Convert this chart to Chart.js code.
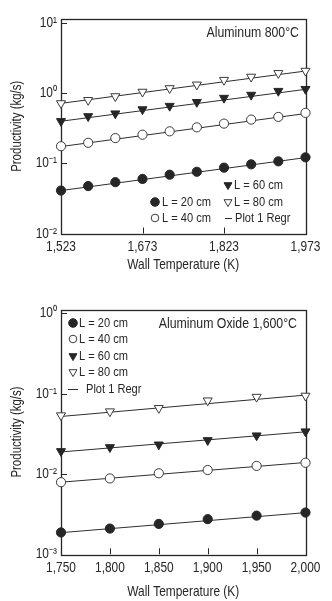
<!DOCTYPE html>
<html><head><meta charset="utf-8">
<script src="https://cdn.jsdelivr.net/npm/chart.js@4.4.1/dist/chart.umd.min.js"></script>
<style>
html,body{margin:0;padding:0;background:#fff;}
#wrap{position:relative;width:332px;height:601px;}
#c1{position:absolute;left:0;top:0;}
#c2{position:absolute;left:0;top:290px;}
</style></head>
<body><div id="wrap"><canvas id="c1" width="332" height="290"></canvas><canvas id="c2" width="332" height="311"></canvas></div>
<script>
// ---------- data: top chart (Aluminum 800°C) ----------
const topTemps = [1523, 1573, 1623, 1673, 1723, 1773, 1823, 1873, 1923, 1973];
const topL20 = [0.041, 0.0475, 0.054, 0.060, 0.069, 0.076, 0.087, 0.097, 0.107, 0.122];
const topL40 = [0.176, 0.197, 0.230, 0.257, 0.287, 0.327, 0.370, 0.422, 0.461, 0.526];
const topL60 = [0.40, 0.47, 0.515, 0.59, 0.66, 0.75, 0.86, 0.95, 1.08, 1.15];
const topL80 = [0.72, 0.80, 0.906, 1.05, 1.18, 1.33, 1.55, 1.72, 1.94, 2.09];
const topRegL20 = [0.041, 0.121];
const topRegL40 = [0.174, 0.515];
const topRegL60 = [0.40, 1.14];
const topRegL80 = [0.72, 2.08];
const topXTicks = [1523, 1673, 1823, 1973];
const topYTicks = [10, 1, 0.1, 0.01];

// ---------- data: bottom chart (Aluminum Oxide 1,600°C) ----------
const botTemps = [1750, 1800, 1850, 1900, 1950, 2000];
const botL20 = [0.00187, 0.00209, 0.00239, 0.00274, 0.00303, 0.00331];
const botL40 = [0.0079, 0.0088, 0.0102, 0.0112, 0.0126, 0.0138];
const botL60 = [0.0192, 0.0215, 0.0232, 0.0263, 0.0301, 0.0338];
const botL80 = [0.0536, 0.060, 0.066, 0.082, 0.091, 0.094];
const botRegL20 = [0.00186, 0.0033];
const botRegL40 = [0.0079, 0.0139];
const botRegL60 = [0.0188, 0.0335];
const botRegL80 = [0.052, 0.096];
const botXTicks = [1750, 1800, 1850, 1900, 1950, 2000];
const botYTicks = [1, 0.1, 0.01, 0.001];

const seriesNames = ['L = 20 cm', 'L = 40 cm', 'L = 60 cm', 'L = 80 cm'];
const regName = 'Plot 1 Regr';

// Narrow-looking text: the reference uses a condensed sans; condense rendered text horizontally.
(function(){
  const _ft = CanvasRenderingContext2D.prototype.fillText;
  CanvasRenderingContext2D.prototype.fillText = function(t, x, y, mw){
    const w = this.measureText(t).width * 0.82;
    return _ft.call(this, t, x, y, (mw !== undefined && mw !== null && mw < w) ? mw : w);
  };
})();

const FONT = "'Liberation Sans Narrow','Arial Narrow','Liberation Sans',Arial,sans-serif";
const INK = '#262626';
const TXT = '#262626';
const supMap = {'10':'10\u00B9','1':'10\u2070','0.1':'10\u207B\u00B9','0.01':'10\u207B\u00B2','0.001':'10\u207B\u00B3'};

function pts(xs, ys){ return xs.map((x,i)=>({x:x, y:ys[i]})); }
function regPts(xs, r){ return [{x:xs[0], y:r[0]}, {x:xs[xs.length-1], y:r[1]}]; }

const styles = [
  {pointStyle:'circle', radius:4.6, bg:INK, bc:INK, rot:0},
  {pointStyle:'circle', radius:4.6, bg:'#fff', bc:'#3a3a3a', rot:0},
  {pointStyle:'triangle', radius:5.2, bg:INK, bc:INK, rot:180},
  {pointStyle:'triangle', radius:5.2, bg:'#fff', bc:'#3a3a3a', rot:180}
];

function makeDatasets(xs, series, regs){
  const ds = [];
  regs.forEach((r)=>{
    ds.push({type:'line', label:regName, data:regPts(xs, r), borderColor:'#2e2e2e', borderWidth:1,
      pointRadius:0, fill:false, order:2, clip:false});
  });
  series.forEach((s,i)=>{
    const st = styles[i];
    ds.push({type:'scatter', label:seriesNames[i], data:pts(xs, s), pointStyle:st.pointStyle,
      pointRadius:st.radius, pointHoverRadius:st.radius, pointRotation:st.rot,
      backgroundColor:st.bg, borderColor:st.bc, borderWidth:1, showLine:false, order:1, clip:false});
  });
  return ds;
}

function drawSym(ctx, it){
  ctx.save();
  ctx.lineWidth = 1; ctx.strokeStyle = '#3a3a3a'; ctx.fillStyle = INK;
  if (it.sym === 'line'){
    ctx.strokeStyle = '#2e2e2e';
    ctx.beginPath(); ctx.moveTo(it.x - it.len/2, Math.round(it.y)+0.5); ctx.lineTo(it.x + it.len/2, Math.round(it.y)+0.5); ctx.stroke();
  } else {
    const i = {dot:0, ring:1, tri:2, otri:3}[it.sym];
    const st = styles[i];
    ctx.fillStyle = st.bg; ctx.strokeStyle = st.bc;
    const r = (i>=2) ? 4.6 : (i===1 ? 3.8 : 4.3);
    Chart.helpers.drawPoint(ctx, {pointStyle:st.pointStyle, radius:r, rotation:st.rot, borderWidth:1}, it.x, it.y);
  }
  ctx.restore();
}

const framePlugin = {
  id:'frame',
  beforeDatasetsDraw(chart){
    const {ctx, chartArea:a, scales:{x, y}} = chart;
    ctx.save();
    ctx.strokeStyle = INK; ctx.lineWidth = 1.3;
    ctx.strokeRect(Math.round(a.left)+0.5, Math.round(a.top)+0.5, Math.round(a.right-a.left), Math.round(a.bottom-a.top));
    ctx.lineWidth = 1;
    x.ticks.forEach(t=>{
      const px = Math.round(x.getPixelForValue(t.value))+0.5;
      if (px > a.left+2 && px < a.right-2){ ctx.beginPath(); ctx.moveTo(px, a.bottom); ctx.lineTo(px, a.bottom-6); ctx.stroke(); }
    });
    y.ticks.forEach(t=>{
      const py = Math.round(y.getPixelForValue(t.value))+0.5;
      if (py > a.top+2 && py < a.bottom-2){ ctx.beginPath(); ctx.moveTo(a.left, py); ctx.lineTo(a.left+6, py); ctx.stroke(); }
    });
    ctx.restore();
  },
  afterDraw(chart, args, opts){
    const ctx = chart.ctx;
    ctx.save();
    ctx.fillStyle = TXT; ctx.textBaseline = 'middle';
    ctx.font = '15px ' + FONT; ctx.textAlign = 'right';
    ctx.fillText(opts.note, opts.noteX, opts.noteY);
    ctx.font = '13.5px ' + FONT; ctx.textAlign = 'left';
    opts.items.forEach(it=>{
      drawSym(ctx, it);
      ctx.fillStyle = TXT;
      ctx.fillText(it.text, it.tx, it.y);
    });
    ctx.restore();
  }
};

function commonOptions(cfg){
  return {
    responsive:false, animation:false,
    layout:{padding:{left:0, top:cfg.top, right:cfg.right, bottom:0}},
    plugins:{legend:{display:false}, tooltip:{enabled:false},
      frame:{note:cfg.note, noteX:cfg.noteX, noteY:cfg.noteY, items:cfg.items}},
    scales:{
      x:{type:'linear', min:cfg.xmin, max:cfg.xmax,
        grid:{display:false, drawTicks:false}, border:{display:false},
        afterBuildTicks:(s)=>{ s.ticks = cfg.xticks.map(v=>({value:v})); },
        afterFit:(s)=>{ s.height = cfg.xh; },
        ticks:{padding:5, color:TXT, font:{family:FONT, size:14.5}, maxRotation:0, autoSkip:false,
          callback:(v)=>Number(v).toLocaleString('en-US')},
        title:{display:true, text:'Wall Temperature (K)', color:TXT, font:{family:FONT, size:14.5}, padding:{top:0, bottom:cfg.xtpad}}
      },
      y:{type:'logarithmic', min:cfg.ymin, max:cfg.ymax,
        grid:{display:false, drawTicks:false}, border:{display:false},
        afterBuildTicks:(s)=>{ s.ticks = cfg.yticks.map(v=>({value:v})); },
        afterFit:(s)=>{ s.width = 61; },
        ticks:{padding:4, color:TXT, font:{family:FONT, size:14.5}, autoSkip:false,
          callback:(v)=>supMap[String(v)] || String(v)},
        title:{display:true, text:'Productivity (kg/s)', color:TXT, font:{family:FONT, size:14}, padding:{top:9, bottom:0}}
      }
    }
  };
}

new Chart(document.getElementById('c1'), {
  data:{datasets:makeDatasets(topTemps, [topL20, topL40, topL60, topL80], [topRegL20, topRegL40, topRegL60, topRegL80])},
  options:commonOptions({top:19, right:26.5, xmin:1523, xmax:1973, ymin:0.01, ymax:11.5,
    xticks:topXTicks, yticks:topYTicks, xh:290-233.5, xtpad:16,
    note:'Aluminum 800\u00B0C', noteX:299, noteY:33,
    items:[
      {sym:'tri', x:228, y:185, tx:234, text:seriesNames[2]},
      {sym:'dot', x:155, y:202, tx:162, text:seriesNames[0]},
      {sym:'otri', x:228, y:202, tx:234, text:seriesNames[3]},
      {sym:'ring', x:155, y:218, tx:162, text:seriesNames[1]},
      {sym:'line', x:228.5, y:218, len:7, tx:235, text:regName}
    ]}),
  plugins:[framePlugin]
});

new Chart(document.getElementById('c2'), {
  data:{datasets:makeDatasets(botTemps, [botL20, botL40, botL60, botL80], [botRegL20, botRegL40, botRegL60, botRegL80])},
  options:commonOptions({top:19.7, right:26.5, xmin:1750, xmax:2000, ymin:0.001, ymax:1.11,
    xticks:botXTicks, yticks:botYTicks, xh:311-264.3, xtpad:0,
    note:'Aluminum Oxide 1,600\u00B0C', noteX:297, noteY:34,
    items:[
      {sym:'dot', x:73, y:33, tx:79, text:seriesNames[0]},
      {sym:'ring', x:73, y:49, tx:79, text:seriesNames[1]},
      {sym:'tri', x:73, y:66, tx:79, text:seriesNames[2]},
      {sym:'otri', x:73, y:82, tx:79, text:seriesNames[3]},
      {sym:'line', x:73, y:99, len:10, tx:86, text:regName}
    ]}),
  plugins:[framePlugin]
});
</script>
</body></html>
